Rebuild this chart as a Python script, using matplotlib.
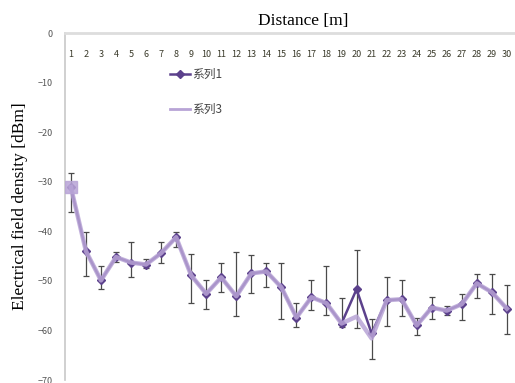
import numpy as np
import matplotlib.pyplot as plt
from matplotlib.lines import Line2D

plt.rcParams['font.family'] = ['Noto Sans CJK SC', 'DejaVu Sans']

# 距离 1..30 m
distance = list(range(1, 31))

# 系列1 (mean)
s1 = [-31.1, -44.0, -49.9, -45.2, -46.3, -46.7, -44.4, -41.2, -48.9, -52.6,
      -49.3, -53.1, -48.5, -48.1, -51.3, -57.4, -53.3, -54.5, -58.6, -51.7,
      -60.6, -53.9, -53.7, -59.0, -55.4, -56.0, -54.7, -50.5, -52.3, -55.6]

# 系列3
s3 = [-31.1, -44.0, -49.9, -45.2, -46.3, -46.7, -44.4, -41.2, -48.9, -52.6,
      -49.3, -53.1, -48.5, -48.1, -51.3, -57.4, -53.3, -54.5, -58.6, -57.2,
      -61.6, -53.9, -53.7, -59.0, -55.4, -56.0, -54.7, -50.5, -52.3, -55.6]

# error bar ends
err_top = [-28.3, -40.2, -47.1, -44.2, -42.2, -45.5, -42.2, -40.2, -44.6, -49.9,
           -46.3, -44.2, -44.8, -46.3, -46.3, -54.5, -49.9, -46.9, -53.5, -43.8,
           -57.6, -49.3, -49.9, -57.4, -53.3, -55.0, -52.7, -48.7, -48.7, -50.9]
err_bot = [-36.2, -49.1, -51.7, -46.1, -49.3, -47.5, -46.3, -43.2, -54.5, -55.6,
           -52.3, -57.0, -52.5, -51.3, -57.6, -59.4, -55.8, -56.8, -59.4, -59.6,
           -65.7, -59.2, -57.0, -61.0, -57.6, -56.8, -57.8, -53.5, -56.6, -60.8]

x = np.array(distance)
s1 = np.array(s1)
yerr = [s1 - np.array(err_bot), np.array(err_top) - s1]

dark = '#5c418c'
light = '#b8a4d6'

fig = plt.figure(figsize=(5.15, 3.83), dpi=100)
ax = fig.add_axes([0.126, 0.0078, 0.874, 0.906])

ax.errorbar(x, s1, yerr=yerr, fmt='none', ecolor='#4a4a4a', elinewidth=0.9,
            capsize=2.5, capthick=0.9, zorder=2)
ax.plot(x, s1, color=dark, lw=1.8, marker='D', markersize=4.5,
        label='系列1', zorder=3)
ax.plot(x, s3, color=light, lw=3.2, marker='s', markersize=9,
        markevery=[0], label='系列3', zorder=4, alpha=0.85,
        solid_joinstyle='round')

ax.set_xlim(0.6, 30.54)
ax.set_ylim(-70, 0)
ax.set_yticks([0, -10, -20, -30, -40, -50, -60, -70])
ax.set_xticks(x)
ax.xaxis.tick_top()
ax.tick_params(axis='x', length=0, pad=-19, labelsize=6.5, labelcolor='#3a3a2a')
ax.tick_params(axis='y', length=0, pad=9, labelsize=6.5, labelcolor='#555555')

for s in ['right', 'bottom']:
    ax.spines[s].set_visible(False)
ax.spines['left'].set_color('#c8c8c8')
ax.spines['top'].set_color('#dddddd')
ax.spines['top'].set_linewidth(2)
ax.spines['left'].set_linewidth(1.2)

ax.set_title('Distance [m]', family='Liberation Serif', fontsize=12.5,
             pad=6, x=0.53)
ax.set_ylabel('Electrical field density [dBm]', family='Liberation Serif',
              fontsize=12.5)
ax.yaxis.set_label_coords(-0.082, 0.5)

h1 = Line2D([], [], color=dark, lw=1.8, marker='D', markersize=4)
h3 = Line2D([], [], color=light, lw=2)
ax.legend([h1, h3], ['系列1', '系列3'], loc='upper left',
          bbox_to_anchor=(0.21, 0.93), frameon=False, fontsize=8.5,
          handlelength=1.7, handletextpad=0.2, labelspacing=1.9,
          labelcolor='#444444')

fig.savefig('out.png', dpi=100)
